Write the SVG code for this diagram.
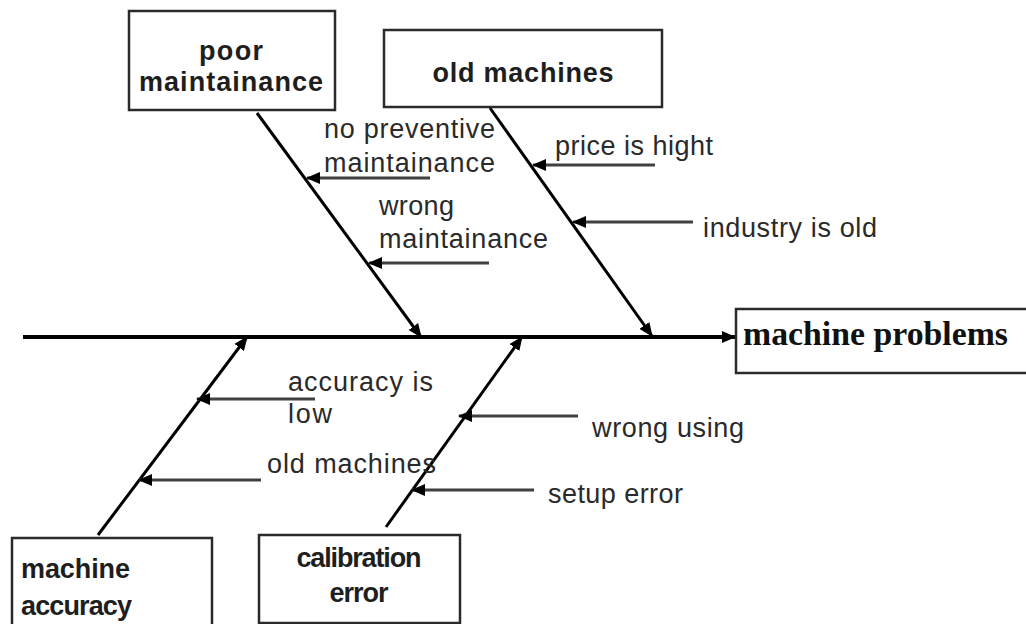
<svg xmlns="http://www.w3.org/2000/svg" width="1026" height="624" viewBox="0 0 1026 624">
  <style>
    .box { fill: #ffffff; stroke: #2a2a2a; stroke-width: 2.5; }
    .bt { font-family: "Liberation Sans", Arial, sans-serif; font-weight: bold; font-size: 27px; fill: #1e1e1e; }
    .lt { font-family: "Liberation Sans", Arial, sans-serif; font-size: 27px; fill: #2a2a2a; }
    .head { font-family: "Liberation Serif", serif; font-weight: bold; font-size: 33px; fill: #111111; }
    .spine { stroke: #000000; stroke-width: 4; fill: none; }
    .bone { stroke: #000000; stroke-width: 3; fill: none; }
    .sub { stroke: #404040; stroke-width: 3; fill: none; }
  </style>
  <defs>
    <marker id="ah" markerUnits="userSpaceOnUse" markerWidth="14" markerHeight="12" refX="13" refY="6" orient="auto">
      <path d="M0,0 L14,6 L0,12 z" fill="#000000"/>
    </marker>
  </defs>
  <rect width="1026" height="624" fill="#ffffff"/>

  <g id="connectors">
    <line class="spine" x1="23" y1="337" x2="735" y2="337" marker-end="url(#ah)"/>
    <line class="bone" x1="257" y1="113" x2="421" y2="337" marker-end="url(#ah)"/>
    <line class="bone" x1="490" y1="108" x2="652" y2="336" marker-end="url(#ah)"/>
    <line class="bone" x1="98" y1="535" x2="247" y2="337" marker-end="url(#ah)"/>
    <line class="bone" x1="386" y1="527" x2="522" y2="337" marker-end="url(#ah)"/>
    <line class="sub" x1="430" y1="178" x2="307" y2="178" marker-end="url(#ah)"/>
    <line class="sub" x1="489" y1="263" x2="369" y2="263" marker-end="url(#ah)"/>
    <line class="sub" x1="655" y1="165" x2="533" y2="165" marker-end="url(#ah)"/>
    <line class="sub" x1="693" y1="222" x2="573" y2="222" marker-end="url(#ah)"/>
    <line class="sub" x1="315" y1="399" x2="197" y2="399" marker-end="url(#ah)"/>
    <line class="sub" x1="261" y1="480" x2="139" y2="480" marker-end="url(#ah)"/>
    <line class="sub" x1="578" y1="416" x2="459" y2="416" marker-end="url(#ah)"/>
    <line class="sub" x1="534" y1="490" x2="412" y2="490" marker-end="url(#ah)"/>
  </g>

  <g id="poor-maintainance">
    <rect class="box" x="129" y="11" width="206" height="99"/>
    <text class="bt" x="231" y="60" text-anchor="middle" textLength="64" lengthAdjust="spacing">poor</text>
    <text class="bt" x="231" y="91" text-anchor="middle" textLength="184" lengthAdjust="spacing">maintainance</text>
  </g>

  <g id="old-machines">
    <rect class="box" x="384" y="30" width="278" height="77"/>
    <text class="bt" x="523" y="82" text-anchor="middle" textLength="181" lengthAdjust="spacing">old machines</text>
  </g>

  <g id="machine-problems">
    <rect class="box" x="736" y="309" width="300" height="64"/>
    <text class="head" x="743" y="345" textLength="265" lengthAdjust="spacingAndGlyphs">machine problems</text>
  </g>

  <g id="machine-accuracy">
    <rect class="box" x="12" y="538" width="200" height="100"/>
    <text class="bt" x="21" y="578" textLength="109" lengthAdjust="spacing">machine</text>
    <text class="bt" x="21" y="615" textLength="111" lengthAdjust="spacing">accuracy</text>
  </g>

  <g id="calibration-error">
    <rect class="box" x="259" y="535" width="201" height="88"/>
    <text class="bt" x="359" y="567" text-anchor="middle" textLength="125" lengthAdjust="spacing">calibration</text>
    <text class="bt" x="359" y="602" text-anchor="middle" textLength="59" lengthAdjust="spacing">error</text>
  </g>

  <g id="cause-no-preventive">
    <text class="lt" x="324" y="138" textLength="171" lengthAdjust="spacing">no preventive</text>
    <text class="lt" x="324" y="172" textLength="171" lengthAdjust="spacing">maintainance</text>
  </g>
  <g id="cause-wrong-maintainance">
    <text class="lt" x="379" y="215" textLength="75" lengthAdjust="spacing">wrong</text>
    <text class="lt" x="379" y="248" textLength="169" lengthAdjust="spacing">maintainance</text>
  </g>
  <g id="cause-price">
    <text class="lt" x="555" y="155" textLength="158" lengthAdjust="spacing">price is hight</text>
  </g>
  <g id="cause-industry">
    <text class="lt" x="703" y="237" textLength="174" lengthAdjust="spacing">industry is old</text>
  </g>
  <g id="cause-accuracy-low">
    <text class="lt" x="288" y="391" textLength="145" lengthAdjust="spacing">accuracy is</text>
    <text class="lt" x="288" y="423" textLength="44" lengthAdjust="spacing">low</text>
  </g>
  <g id="cause-old-machines">
    <text class="lt" x="267" y="473" textLength="169" lengthAdjust="spacing">old machines</text>
  </g>
  <g id="cause-wrong-using">
    <text class="lt" x="592" y="437" textLength="152" lengthAdjust="spacing">wrong using</text>
  </g>
  <g id="cause-setup-error">
    <text class="lt" x="548" y="503" textLength="135" lengthAdjust="spacing">setup error</text>
  </g>
</svg>
